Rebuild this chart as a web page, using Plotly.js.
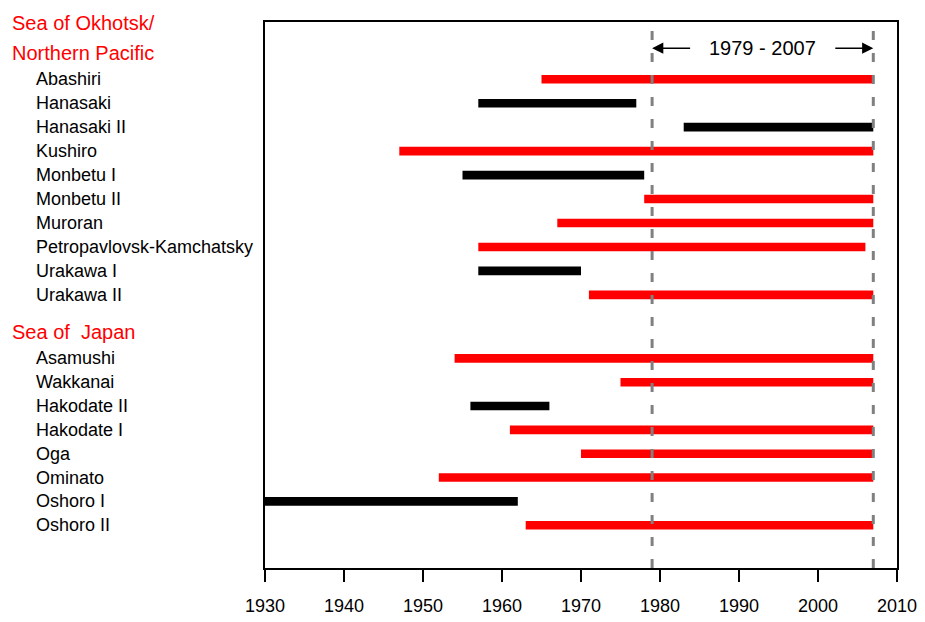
<!DOCTYPE html>
<html>
<head>
<meta charset="utf-8">
<script src="https://cdn.plot.ly/plotly-3.0.1.min.js"></script>
<style>html,body{margin:0;padding:0;background:#fff;}#chart{width:925px;height:622px;}</style>
</head>
<body>
<div id="chart"></div>
<script>
// ---- data ----
const okhotskStations = ["Abashiri","Hanasaki","Hanasaki II","Kushiro","Monbetu I","Monbetu II","Muroran","Petropavlovsk-Kamchatsky","Urakawa I","Urakawa II"];
const okhotskStart = [1965,1957,1983,1947,1955,1978,1967,1957,1957,1971];
const okhotskEnd   = [2007,1977,2007,2007,1978,2007,2007,2006,1970,2007];
const okhotskUsed  = [true,false,false,true,false,true,true,true,false,true];

const japanStations = ["Asamushi","Wakkanai","Hakodate II","Hakodate I","Oga","Ominato","Oshoro I","Oshoro II"];
const japanStart = [1954,1975,1956,1961,1970,1952,1930,1963];
const japanEnd   = [2007,2007,1966,2007,2007,2007,1962,2007];
const japanUsed  = [true,true,false,true,true,true,false,true];

const groupHeader1 = ["Sea of Okhotsk/","Northern Pacific"];
const groupHeader2 = "Sea of  Japan";
const periodYears = [1979, 2007];
const periodLabel = "1979 - 2007";
const xTickVals = [1930,1940,1950,1960,1970,1980,1990,2000,2010];

// ---- layout helpers ----
const okhotskOffset = 1;
const japanOffset = 12.65;
const rows = [];
okhotskStations.forEach((s,i)=>rows.push({name:s,start:okhotskStart[i],end:okhotskEnd[i],used:okhotskUsed[i],pos:okhotskOffset+i}));
japanStations.forEach((s,i)=>rows.push({name:s,start:japanStart[i],end:japanEnd[i],used:japanUsed[i],pos:japanOffset+i*0.995}));

function barTrace(used, color){
  const sel = rows.filter(r=>r.used===used);
  return {
    type:'bar', orientation:'h',
    y: sel.map(r=>r.pos),
    base: sel.map(r=>r.start),
    x: sel.map(r=>r.end-r.start),
    width: sel.map(()=>0.36),
    marker:{color:color, line:{width:0}},
    hoverinfo:'skip', showlegend:false
  };
}
const traces = [barTrace(true,'#ff0000'), barTrace(false,'#000000')];

const font = "Liberation Sans, Arial, sans-serif";
const annotations = [];
rows.forEach(r=>annotations.push({
  x:-0.365, xref:'paper', xanchor:'left',
  y:r.pos, yref:'y', yanchor:'middle',
  text:r.name, showarrow:false,
  font:{family:font,size:18,color:'#000'}
}));
const headerFont = {family:font,size:20,color:'#ff0000'};
annotations.push({x:-0.403, xref:'paper', xanchor:'left', y:0.998, yref:'paper', yanchor:'middle',
  text:groupHeader1[0], showarrow:false, font:headerFont});
annotations.push({x:-0.403, xref:'paper', xanchor:'left', y:0.943, yref:'paper', yanchor:'middle',
  text:groupHeader1[1], showarrow:false, font:headerFont});
annotations.push({x:-0.403, xref:'paper', xanchor:'left', y:11.55, yref:'y', yanchor:'middle',
  text:groupHeader2, showarrow:false, font:headerFont});
// period label and arrows
const mid = (periodYears[0]+periodYears[1])/2;
annotations.push({x:mid, xref:'x', y:0.952, yref:'paper', yanchor:'middle', text:periodLabel, showarrow:false,
  font:{family:font,size:20,color:'#000'}});
annotations.push({x:periodYears[0], xref:'x', y:0.952, yref:'paper', ax:periodYears[0]+5, axref:'x', ay:0, ayref:'pixel',
  text:'', showarrow:true, arrowhead:2, arrowsize:1.4, arrowwidth:1.6, arrowcolor:'#000', standoff:0, startstandoff:0});
annotations.push({x:periodYears[1], xref:'x', y:0.952, yref:'paper', ax:periodYears[1]-5, axref:'x', ay:0, ayref:'pixel',
  text:'', showarrow:true, arrowhead:2, arrowsize:1.4, arrowwidth:1.6, arrowcolor:'#000', standoff:0, startstandoff:0});

const shapes = periodYears.map(yr=>({
  type:'line', xref:'x', yref:'paper', x0:yr, x1:yr, y0:0, y1:1,
  line:{color:'#808080', width:3, dash:'9px,13px'}, layer:'above'
}));

const layout = {
  width:925, height:622,
  margin:{l:265, r:28, t:22, b:54},
  paper_bgcolor:'#fff', plot_bgcolor:'#fff',
  barmode:'overlay',
  xaxis:{range:[1930,2010], tickvals:xTickVals, ticks:'outside', ticklen:12, tickwidth:2, tickcolor:'#000',
    ticklabelstandoff:8,
    showline:true, linewidth:2, linecolor:'#000', mirror:true, showgrid:false, zeroline:false,
    tickfont:{family:font,size:18,color:'#000'}},
  yaxis:{range:[21.4,-1.39], showticklabels:false, ticks:'', showline:true, linewidth:2, linecolor:'#000',
    mirror:true, showgrid:false, zeroline:false},
  annotations:annotations, shapes:shapes,
  font:{family:font}
};
Plotly.newPlot('chart', traces, layout, {displayModeBar:false, staticPlot:true});
</script>
</body>
</html>
